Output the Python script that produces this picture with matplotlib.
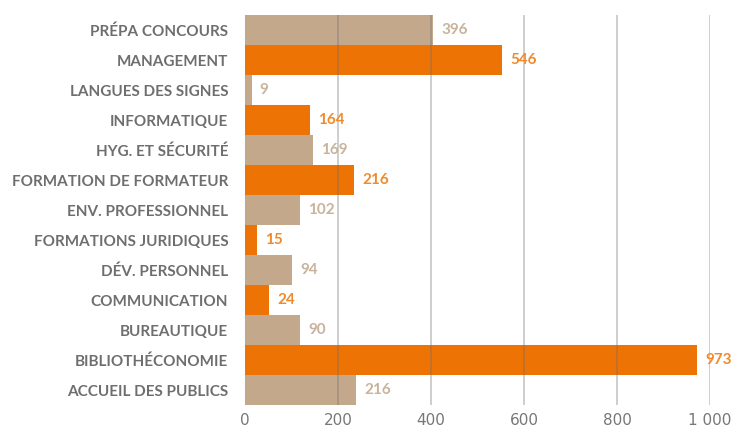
import matplotlib
matplotlib.use("Agg")
import matplotlib.pyplot as plt

categories = [
    "PRÉPA CONCOURS", "MANAGEMENT", "LANGUES DES SIGNES", "INFORMATIQUE",
    "HYG. ET SÉCURITÉ", "FORMATION DE FORMATEUR", "ENV. PROFESSIONNEL",
    "FORMATIONS JURIDIQUES", "DÉV. PERSONNEL", "COMMUNICATION",
    "BUREAUTIQUE", "BIBLIOTHÉCONOMIE", "ACCUEIL DES PUBLICS",
]
# bar lengths as drawn in the picture (they do not quite match the printed labels)
bar_lengths = [404, 553, 14, 140, 146, 234, 118, 26, 101, 52, 118, 972, 239]
value_labels = [396, 546, 9, 164, 169, 216, 102, 15, 94, 24, 90, 973, 216]
x_ticks = [0, 200, 400, 600, 800, 1000]
x_tick_labels = ["0", "200", "400", "600", "800", "1 000"]

TAN = "#C4A88C"
ORANGE = "#EC7304"
TAN_TXT = "#C8B39C"
ORANGE_TXT = "#F08A2C"
GREY_TXT = "#6E6E71"

plt.rcParams['font.family'] = ['Lato', 'DejaVu Sans']

fig = plt.figure(figsize=(7.39, 4.30), dpi=100)
ax = fig.add_axes([245 / 739, 25 / 430, 465 / 739, 390 / 430])

ys = list(range(len(categories)))
colors = [TAN if i % 2 == 0 else ORANGE for i in ys]
txt_colors = [TAN_TXT if i % 2 == 0 else ORANGE_TXT for i in ys]

ax.barh(ys, bar_lengths, height=1.0, color=colors, zorder=1)

for y, length, lab, c in zip(ys, bar_lengths, value_labels, txt_colors):
    ax.annotate(str(lab), (length, y), xytext=(6, 0), textcoords="offset points",
                ha="left", va="center", fontsize=11, fontweight="bold",
                color=c, annotation_clip=False)

ax.set_xlim(0, 1000)
ax.set_ylim(len(categories) - 0.5, -0.5)
ax.set_yticks(ys)
ax.set_yticklabels(categories, fontsize=11, fontweight="bold", color=GREY_TXT)
ax.set_xticks(x_ticks)
ax.set_xticklabels(x_tick_labels, fontsize=11, color="#77777A",
                   family=["DejaVu Sans"])
ax.tick_params(axis="y", length=0, pad=12)
ax.tick_params(axis="x", length=0, pad=6)

ax.xaxis.grid(True, color="#6f6f6f", alpha=0.4, linewidth=1.2, zorder=3)
ax.set_axisbelow(False)
for sp in ax.spines.values():
    sp.set_visible(False)
ax.get_xgridlines()[0].set_visible(False)

fig.savefig("out.png", dpi=100, facecolor="white")
